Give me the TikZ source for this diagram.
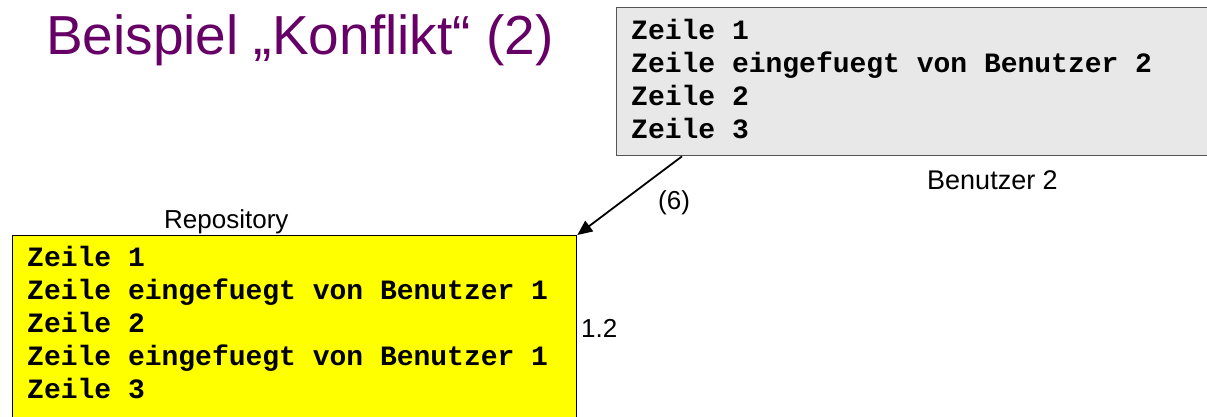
\documentclass[tikz,border=0pt]{standalone}
\usepackage{fontspec}
\setmainfont{Liberation Sans}
\newfontfamily\codefont{Liberation Mono}
\usetikzlibrary{arrows.meta,calc}
\definecolor{titlepurple}{HTML}{660066}
\definecolor{boxgray}{HTML}{E8E8E8}
\definecolor{bordergray}{HTML}{555555}
\definecolor{repoyellow}{HTML}{FFFF00}
\tikzset{
  codeline/.style={anchor=base west, inner sep=0pt, font=\codefont\bfseries\fontsize{28}{33}\selectfont},
  label/.style={anchor=base west, inner sep=0pt, font=\fontsize{26}{30}\selectfont},
  graybox/.style={draw=bordergray, fill=boxgray, line width=1.3pt, inner sep=0pt, anchor=north west},
  repobox/.style={draw=black, fill=repoyellow, line width=1.3pt, inner sep=0pt, anchor=north west},
  conn/.style={line width=1.8pt, -{Triangle[length=15pt,width=13pt]}}
}
\begin{document}
\begin{tikzpicture}[x=1pt,y=-1pt]
\useasboundingbox (0,0) rectangle (1207,416);
\clip (0,0) rectangle (1207,416);
% title
\node[anchor=base west, inner sep=0pt, text=titlepurple, font=\fontsize{55}{62}\selectfont] (title) at (46,54) {Beispiel „Konflikt“ (2)};
% Benutzer 2 box
\node[graybox, minimum width=620pt, minimum height=148pt] (b2) at (616,7) {};
\node[codeline] (b2l1) at (631,39) {Zeile 1};
\node[codeline] (b2l2) at (631,72) {Zeile eingefuegt von Benutzer 2};
\node[codeline] (b2l3) at (631,105) {Zeile 2};
\node[codeline] (b2l4) at (631,138) {Zeile 3};
\node[label, font=\fontsize{27}{30}\selectfont] (b2lab) at (927,189) {Benutzer 2};
% Repository box
\node[repobox, minimum width=564pt, minimum height=220pt] (repo) at (12,235) {};
\node[codeline] (r1) at (27,266) {Zeile 1};
\node[codeline] (r2) at (27,299) {Zeile eingefuegt von Benutzer 1};
\node[codeline] (r3) at (27,332) {Zeile 2};
\node[codeline] (r4) at (27,365) {Zeile eingefuegt von Benutzer 1};
\node[codeline] (r5) at (27,398) {Zeile 3};
\node[label] (repolab) at (164,228) {Repository};
\node[label] (ver) at (581,337) {1.2};
% arrow
\coordinate (start) at ($(b2.south west)+(66,0)$);
\draw[conn] (start) -- (repo.north east);
\node[label] (six) at (658,209) {(6)};
\end{tikzpicture}
\end{document}
